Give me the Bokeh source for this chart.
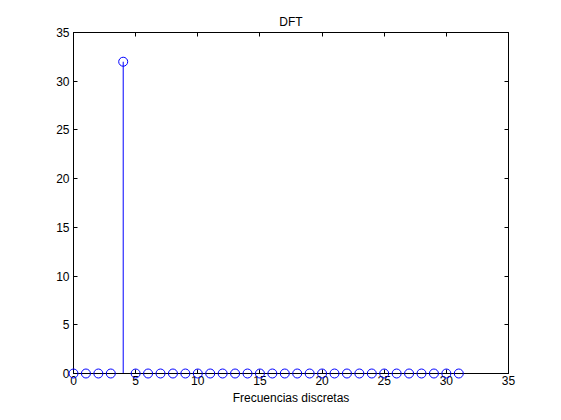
from bokeh.plotting import figure
from bokeh.models import Range1d, LinearAxis, FixedTicker, ColumnDataSource
from bokeh.embed import file_html
from bokeh.resources import INLINE

title = "DFT"
xlabel = "Frecuencias discretas"
k = list(range(32))
mag = [0.0] * 32
mag[4] = 32.0
xticks = [0, 5, 10, 15, 20, 25, 30, 35]
yticks = [0, 5, 10, 15, 20, 25, 30, 35]

src = ColumnDataSource(dict(x=k, y=mag, y0=[0.0] * len(k)))

p = figure(output_backend="svg", toolbar_location=None,
           width=553, height=412,
           frame_width=435, frame_height=341,
           min_border_left=73, min_border_right=45,
           min_border_top=32, min_border_bottom=39,
           x_range=Range1d(0, 35), y_range=Range1d(0, 35),
           x_axis_location=None, y_axis_location=None)

font = "Liberation Sans"
p.title.text = title
p.title.align = "center"
p.title.text_font = font
p.title.text_font_size = "12px"
p.title.text_font_style = "normal"
p.title.text_color = "black"
p.title.offset = 0
p.title.standoff = 8

p.xgrid.visible = False
p.ygrid.visible = False
p.outline_line_color = "black"
p.outline_line_width = 1
p.background_fill_color = "white"
p.border_fill_color = "white"

def mk_axis(show_labels, label=None):
    ax = LinearAxis(ticker=FixedTicker(ticks=xticks))
    ax.major_tick_in = 4
    ax.major_tick_out = 0
    ax.minor_tick_in = 0
    ax.minor_tick_out = 0
    ax.axis_line_color = "black"
    ax.major_tick_line_color = "black"
    ax.major_label_text_font = font
    ax.major_label_text_font_size = "12px"
    ax.major_label_text_color = "black"
    ax.major_label_standoff = 2
    if not show_labels:
        ax.major_label_text_alpha = 0
        ax.major_label_text_font_size = "0px"
    if label:
        ax.axis_label = label
        ax.axis_label_text_font = font
        ax.axis_label_text_font_size = "12px"
        ax.axis_label_text_font_style = "normal"
        ax.axis_label_text_color = "black"
        ax.axis_label_standoff = 3
    return ax

bx = mk_axis(True, xlabel)
bx.ticker = FixedTicker(ticks=xticks)
p.add_layout(bx, "below")
tx = mk_axis(False)
tx.ticker = FixedTicker(ticks=xticks)
p.add_layout(tx, "above")
ly = mk_axis(True)
ly.ticker = FixedTicker(ticks=yticks)
ly.major_label_standoff = 4
p.add_layout(ly, "left")
ry = mk_axis(False)
ry.ticker = FixedTicker(ticks=yticks)
p.add_layout(ry, "right")

p.segment(x0="x", y0="y0", x1="x", y1="y", source=src, line_color="blue", line_width=1)
p.scatter(x="x", y="y", source=src, marker="circle", size=9,
          line_color="blue", fill_color=None, line_width=1, level="overlay")

open("out.html", "w").write(file_html(p, INLINE))
